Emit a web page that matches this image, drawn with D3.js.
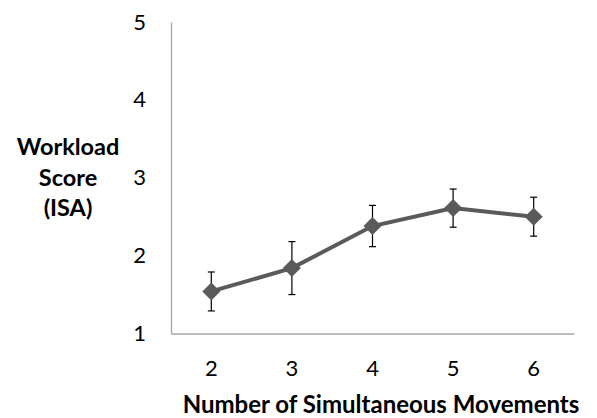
<!DOCTYPE html>
<html>
<head>
<meta charset="utf-8">
<script src="https://cdn.jsdelivr.net/npm/d3@7"></script>
<style>
  body { margin: 0; background: #fff; }
  text { font-family: Lato, "Open Sans", sans-serif; }
</style>
</head>
<body>
<div id="chart"></div>
<script>
// data
const movements = ["2", "3", "4", "5", "6"];
const scores = [1.54, 1.84, 2.38, 2.61, 2.50];
const errors = [0.25, 0.34, 0.265, 0.245, 0.25];
const yTicks = [1, 2, 3, 4, 5];

const W = 597, H = 418;
const margin = { top: 22, right: 23, bottom: 84.5, left: 171 };
const width = W - margin.left - margin.right;
const height = H - margin.top - margin.bottom;

const svg = d3.select("#chart")
  .append("svg")
    .attr("width", W)
    .attr("height", H)
  .append("g")
    .attr("transform", `translate(${margin.left},${margin.top})`);

const xScale = d3.scaleBand()
  .domain(movements)
  .range([0, width]);

const yScale = d3.scaleLinear()
  .domain([1, 5])
  .range([height, 0]);

// axes
const xAxis = svg.append("g")
  .attr("transform", `translate(0,${height})`)
  .call(d3.axisBottom(xScale).tickSize(0).tickPadding(27));

const yAxis = svg.append("g")
  .call(d3.axisLeft(yScale).tickValues(yTicks).tickFormat(d3.format("d")).tickSize(0).tickPadding(25));

[xAxis, yAxis].forEach(a => {
  a.select(".domain").attr("stroke", "#a6a6a6").attr("stroke-width", 1.3);
  a.selectAll("text").attr("font-size", 22).attr("fill", "#000");
});

// error bars
const pts = movements.map((m, i) => ({ m: m, v: scores[i], e: errors[i] }));
const cx = d => xScale(d.m) + xScale.bandwidth() / 2;

const eb = svg.append("g").attr("stroke", "#000").attr("stroke-width", 1.2);
eb.selectAll(".stem")
  .data(pts)
  .enter().append("line")
  .attr("x1", cx).attr("x2", cx)
  .attr("y1", d => yScale(d.v + d.e))
  .attr("y2", d => yScale(d.v - d.e));
eb.selectAll(".capTop")
  .data(pts)
  .enter().append("line")
  .attr("x1", d => cx(d) - 3.5).attr("x2", d => cx(d) + 3.5)
  .attr("y1", d => yScale(d.v + d.e)).attr("y2", d => yScale(d.v + d.e));
eb.selectAll(".capBot")
  .data(pts)
  .enter().append("line")
  .attr("x1", d => cx(d) - 3.5).attr("x2", d => cx(d) + 3.5)
  .attr("y1", d => yScale(d.v - d.e)).attr("y2", d => yScale(d.v - d.e));

// line
const line = d3.line()
  .x(cx)
  .y(d => yScale(d.v));

svg.append("path")
  .datum(pts)
  .attr("fill", "none")
  .attr("stroke", "#5a5a5a")
  .attr("stroke-width", 4)
  .attr("d", line);

// diamond markers
svg.selectAll(".marker")
  .data(pts)
  .enter().append("path")
  .attr("class", "marker")
  .attr("transform", d => `translate(${cx(d)},${yScale(d.v)})`)
  .attr("d", "M0,-9L9,0L0,9L-9,0Z")
  .attr("fill", "#5a5a5a");

// axis titles
svg.append("text")
  .attr("x", 381 - margin.left)
  .attr("y", height + 79)
  .attr("text-anchor", "middle")
  .attr("font-size", 24)
  .attr("font-weight", "bold")
  .text("Number of Simultaneous Movements");

const yTitle = svg.append("text")
  .attr("text-anchor", "middle")
  .attr("font-size", 23.5)
  .attr("font-weight", "bold");
["Workload", "Score", "(ISA)"].forEach((t, i) => {
  yTitle.append("tspan")
    .attr("x", 68 - margin.left)
    .attr("y", 155 - margin.top + i * 30.5)
    .text(t);
});
</script>
</body>
</html>
